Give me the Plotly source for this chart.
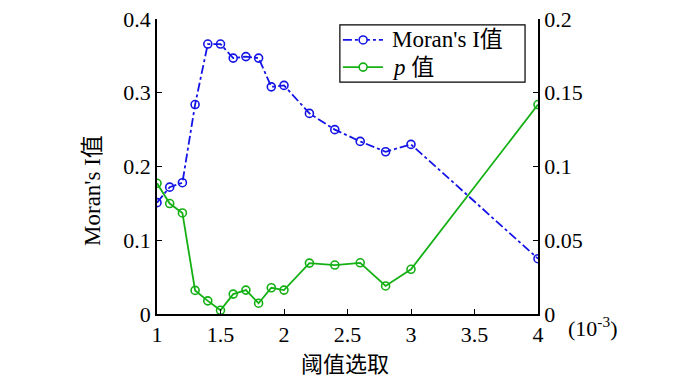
import plotly.graph_objects as go

thresholds = [1.0, 1.1, 1.2, 1.3, 1.4, 1.5, 1.6, 1.7, 1.8, 1.9, 2.0, 2.2, 2.4, 2.6, 2.8, 3.0, 4.0]
moran_i = [0.151, 0.172, 0.178, 0.284, 0.366, 0.366, 0.347, 0.349, 0.347, 0.308, 0.310, 0.272, 0.250, 0.234, 0.220, 0.230, 0.075]
p_values = [0.0886, 0.0749, 0.0685, 0.0160, 0.0089, 0.0025, 0.0135, 0.0162, 0.0073, 0.0178, 0.0162, 0.0345, 0.0332, 0.0347, 0.0190, 0.0303, 0.142]

x_ticks = [1, 1.5, 2, 2.5, 3, 3.5, 4]
x_tick_labels = ["1", "1.5", "2", "2.5", "3", "3.5", "4"]
left_ticks = [0, 0.1, 0.2, 0.3, 0.4]
left_tick_labels = ["0", "0.1", "0.2", "0.3", "0.4"]
right_ticks = [0, 0.05, 0.1, 0.15, 0.2]
right_tick_labels = ["0", "0.05", "0.1", "0.15", "0.2"]
series_names = ["Moran's I值", "<i>p</i> 值"]

BLUE = "#1414e6"
GREEN = "#14b014"
SERIF = "Liberation Serif, Times New Roman, Noto Sans CJK SC, serif"
FS = 22

fig = go.Figure()
fig.add_trace(go.Scatter(
    x=thresholds, y=moran_i, name=series_names[0], mode="lines+markers",
    line=dict(color=BLUE, dash="dashdot", width=1.8),
    marker=dict(symbol="circle-open", size=8, color=BLUE, line=dict(width=1.6)),
    yaxis="y"))
fig.add_trace(go.Scatter(
    x=thresholds, y=p_values, name=series_names[1], mode="lines+markers",
    line=dict(color=GREEN, width=1.8),
    marker=dict(symbol="circle-open", size=8, color=GREEN, line=dict(width=1.6)),
    yaxis="y2"))

axis_common = dict(showgrid=False, zeroline=False, ticks="inside", ticklen=5,
                   tickcolor="black", linecolor="black", linewidth=1.8,
                   showline=True, automargin=False, ticklabeloverflow="allow",
                   tickfont=dict(family=SERIF, size=FS, color="black"))

fig.update_layout(
    width=692, height=373,
    margin=dict(l=149, r=162, t=11, b=67),
    paper_bgcolor="white", plot_bgcolor="white",
    font=dict(family=SERIF, size=FS, color="black"),
    xaxis=dict(range=[1, 4], tickvals=x_ticks, ticktext=x_tick_labels, **axis_common),
    yaxis=dict(range=[0, 0.4], tickvals=left_ticks, ticktext=left_tick_labels, **axis_common),
    yaxis2=dict(range=[0, 0.2], tickvals=right_ticks, ticktext=right_tick_labels,
                overlaying="y", side="right", **axis_common),
    showlegend=False,
)

# Manual legend box (paper coordinates)
fig.add_shape(type="rect", xref="paper", yref="paper", x0=0.480, x1=0.966, y0=0.786, y1=0.980,
              line=dict(color="black", width=1.2), fillcolor="white", layer="above")
rows = [(0.929, BLUE, "dashdot"), (0.837, GREEN, "solid")]
for (yy, col, dash), name in zip(rows, series_names):
    fig.add_shape(type="line", xref="paper", yref="paper", x0=0.488, x1=0.593, y0=yy, y1=yy,
                  line=dict(color=col, width=1.8, dash=dash), layer="above")
    fig.add_shape(type="circle", xref="paper", yref="paper", xsizemode="pixel", ysizemode="pixel",
                  xanchor=0.541, yanchor=yy, x0=-4, x1=4, y0=-4, y1=4,
                  line=dict(color=col, width=1.6), fillcolor="white", layer="above")
    fig.add_annotation(text=name, xref="paper", yref="paper", x=0.611, y=yy,
                       xanchor="left", yanchor="middle", showarrow=False,
                       font=dict(family=SERIF, size=23, color="black"))

fig.add_annotation(text="阈值选取", xref="paper", yref="paper",
                   x=0.493, y=-0.163, xanchor="center", yanchor="middle", showarrow=False,
                   font=dict(family="Noto Sans CJK SC", size=22, color="black"))
fig.add_annotation(text="Moran's I值", xref="paper", yref="paper", textangle=-90,
                   x=-0.171, y=0.42, xanchor="center", yanchor="middle", showarrow=False,
                   font=dict(family=SERIF, size=23, color="black"))
fig.add_annotation(text="(10<sup>-3</sup>)", xref="paper", yref="paper",
                   x=1.074, y=-0.044, xanchor="left", yanchor="middle", showarrow=False,
                   font=dict(family=SERIF, size=22, color="black"))

fig.write_html("out.html")
